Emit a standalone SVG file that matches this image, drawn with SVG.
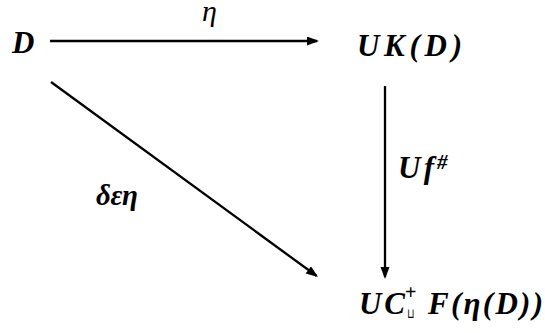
<svg xmlns="http://www.w3.org/2000/svg" width="545" height="333" viewBox="0 0 545 333">
<defs>
<marker id="ah" markerUnits="userSpaceOnUse" markerWidth="14" markerHeight="10" refX="10" refY="4.5" orient="auto">
<path d="M0,0 L12,4.5 L0,9 z" fill="#000"/>
</marker>
</defs>
<rect width="545" height="333" fill="#fff"/>
<g id="connectors" stroke="#000" stroke-width="2.3" fill="none">
<line x1="50" y1="41" x2="317" y2="41" marker-end="url(#ah)"/>
<line x1="385" y1="86" x2="385" y2="277" marker-end="url(#ah)"/>
<line x1="51" y1="82" x2="316.4" y2="275.8" marker-end="url(#ah)"/>
</g>
<g id="labels">
<text x="202" y="21" font-family="'Liberation Serif'" font-style="italic" font-size="30">η</text>
<text x="96" y="205" font-family="'Liberation Serif'" font-style="italic" font-weight="bold" font-size="29" textLength="42" lengthAdjust="spacing">δεη</text>
<text x="398" y="178" font-family="'Liberation Serif'" font-style="italic" font-weight="bold" font-size="31" textLength="36" lengthAdjust="spacing">Uf</text>
<text x="437" y="169" font-family="'Liberation Serif'" font-style="italic" font-weight="bold" font-size="21">#</text>
</g>
<g id="node-D">
<text x="12" y="53" font-family="'Liberation Serif'" font-style="italic" font-weight="bold" font-size="31">D</text>
</g>
<g id="node-UKD">
<text x="357" y="56" font-family="'Liberation Serif'" font-style="italic" font-weight="bold" font-size="31" textLength="105" lengthAdjust="spacing">UK(D)</text>
</g>
<g id="node-UCF">
<text x="359" y="314" font-family="'Liberation Serif'" font-style="italic" font-weight="bold" font-size="31" textLength="46" lengthAdjust="spacing">UC</text>
<text x="405" y="299" font-family="'Liberation Serif'" font-weight="bold" font-size="20">+</text>
<text x="0" y="0" font-family="'DejaVu Sans'" font-size="12" transform="translate(407,318) scale(0.8,1.15)">⊔</text>
<text x="428" y="314" font-family="'Liberation Serif'" font-style="italic" font-weight="bold" font-size="31" textLength="115" lengthAdjust="spacing">F(η(D))</text>
</g>
</svg>
